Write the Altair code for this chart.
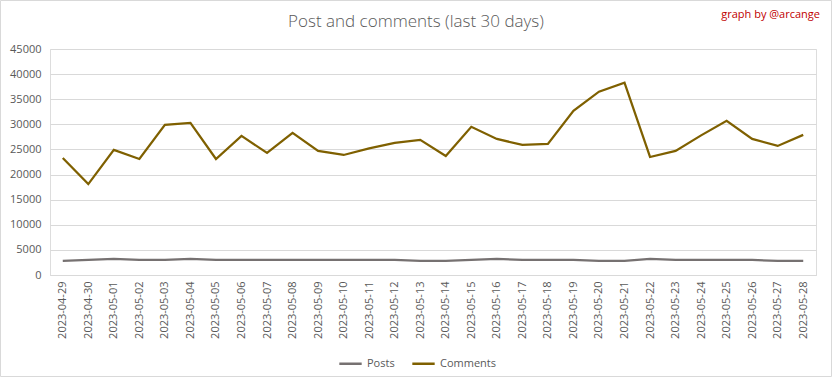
import altair as alt
import pandas as pd

dates = ["2023-04-29", "2023-04-30", "2023-05-01", "2023-05-02", "2023-05-03", "2023-05-04",
         "2023-05-05", "2023-05-06", "2023-05-07", "2023-05-08", "2023-05-09", "2023-05-10",
         "2023-05-11", "2023-05-12", "2023-05-13", "2023-05-14", "2023-05-15", "2023-05-16",
         "2023-05-17", "2023-05-18", "2023-05-19", "2023-05-20", "2023-05-21", "2023-05-22",
         "2023-05-23", "2023-05-24", "2023-05-25", "2023-05-26", "2023-05-27", "2023-05-28"]
posts = [2800, 3000, 3200, 3000, 3000, 3200, 3000, 3000, 3000, 3000, 3000, 3000,
         3000, 3000, 2800, 2800, 3000, 3200, 3000, 3000, 3000, 2800, 2800, 3200,
         3000, 3000, 3000, 3000, 2800, 2800]
comments = [23300, 18100, 24900, 23100, 29900, 30300, 23100, 27700, 24300, 28300, 24700, 23900,
            25200, 26300, 26900, 23700, 29500, 27100, 25900, 26100, 32700, 36500, 38300, 23500,
            24700, 27800, 30700, 27100, 25700, 27900]
series = ["Posts", "Comments"]
colors = ["#767171", "#7F6000"]

rows = []
for d, p, c in zip(dates, posts, comments):
    rows.append({"date": d, "series": "Posts", "value": p})
    rows.append({"date": d, "series": "Comments", "value": c})
df = pd.DataFrame(rows)

W, H = 766, 226

lines = alt.Chart(df).mark_line(strokeWidth=2.25).encode(
    x=alt.X("date:N", sort=dates, title=None,
            scale=alt.Scale(paddingInner=0, paddingOuter=0.5),
            axis=alt.Axis(labelAngle=270, labelAlign="right", labelBaseline="middle",
                          labelFontSize=11, labelColor="#595959", labelFont="Open Sans",
                          domainColor="#D9D9D9", ticks=False, labelPadding=6, grid=False)),
    y=alt.Y("value:Q", title=None,
            scale=alt.Scale(domain=[0, 45000], nice=False),
            axis=alt.Axis(values=list(range(0, 45001, 5000)), format="d", labelFontSize=11,
                          labelColor="#595959", labelFont="Open Sans", domain=False,
                          ticks=False, labelPadding=9, gridColor="#D9D9D9", gridWidth=1)),
    color=alt.Color("series:N", sort=series,
                    scale=alt.Scale(domain=series, range=colors),
                    legend=alt.Legend(title=None, orient="none", direction="horizontal",
                                      legendX=288, legendY=302, labelFontSize=11,
                                      labelColor="#595959", labelFont="Open Sans",
                                      symbolType="stroke", symbolSize=500,
                                      symbolStrokeWidth=2.5, columnPadding=12,
                                      labelOffset=4)),
    order=alt.Order("series:N"),
)

title = alt.Chart(pd.DataFrame({"t": ["Post and comments (last 30 days)"]})).mark_text(
    fontSize=17, font="Open Sans", fontWeight=300, color="#595959", align="center", baseline="middle"
).encode(text="t:N", x=alt.value(366), y=alt.value(-27))

credit = alt.Chart(pd.DataFrame({"t": ["graph by @arcange"]})).mark_text(
    fontSize=11, font="Open Sans", color="#C00000", align="right", baseline="middle"
).encode(text="t:N", x=alt.value(770), y=alt.value(-34))

border = alt.Chart(pd.DataFrame({"a": [0]})).mark_rect(
    fill=None, stroke="#D9D9D9", strokeWidth=1
).encode(x=alt.value(-49.5), x2=alt.value(781.5), y=alt.value(-48.5), y2=alt.value(327.5))

chart = alt.layer(border, lines, title, credit).properties(
    width=W, height=H,
    autosize=alt.AutoSizeParams(type="none"),
    padding={"left": 50, "top": 49, "right": 16, "bottom": 103},
).configure_view(stroke=None).configure(background="white")

chart.save("out.html", embed_options={"renderer": "svg", "actions": False})
